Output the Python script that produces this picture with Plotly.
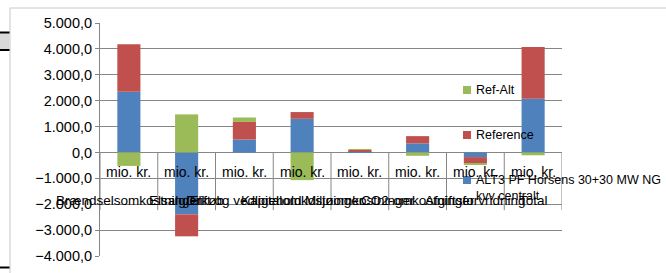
import plotly.graph_objects as go

# ---- data (mio. kr.) ----
categories = ["Brændselsomkostninger", "Elsalg/Elkøb", "Drift og vedligehold",
              "Kapitalomkostninger", "Miljøomkostninger", "CO2-omkostninger",
              "Afgiftsforvridning", "Total"]
unit_labels = ["mio. kr."] * len(categories)
alt3_values = [2340, -2390, 500, 1300, 40, 350, -180, 2070]
reference_values = [1840, -850, 680, 260, 60, 280, -240, 2000]
ref_alt_values = [-520, 1470, 170, -1070, 20, -130, -65, -110]

series_names = ["ALT3 PF Horsens 30+30 MW NG<br>kvv centralt", "Reference", "Ref-Alt"]
series_colors = ["#4F81BD", "#C0504D", "#9BBB59"]

W, H = 666, 273
L, R, T, B = 100, 104, 23, 17
PW, PH = W - L - R, H - T - B


def px(x):
    return (x - L) / PW


def py(y):
    return (H - B - y) / PH


fig = go.Figure()
for i, (name, vals, col) in enumerate(zip(series_names,
                                          [alt3_values, reference_values, ref_alt_values],
                                          series_colors)):
    fig.add_trace(go.Bar(
        x=categories, y=vals, name=name, marker=dict(color=col, line=dict(width=0)),
        width=0.4, showlegend=False,
    ))

grid = "#868686"
shapes = []
# category box lines under zero
for k in range(len(categories) + 1):
    shapes.append(dict(type="line", xref="x", yref="y", x0=k - 0.5, x1=k - 0.5,
                       y0=0, y1=-2230, line=dict(color=grid, width=1)))
# chart area frame
shapes.append(dict(type="line", xref="paper", yref="paper", x0=px(10), x1=px(666),
                   y0=py(8), y1=py(8), line=dict(color="#C8C8C8", width=1)))
shapes.append(dict(type="line", xref="paper", yref="paper", x0=px(10), x1=px(10),
                   y0=py(8), y1=py(273), line=dict(color="#C8C8C8", width=1)))
# spreadsheet artifacts on the left
shapes.append(dict(type="rect", xref="paper", yref="paper", x0=px(0), x1=px(9.5),
                   y0=py(50), y1=py(32.5), fillcolor="#D9D9D9", line=dict(width=0)))
for yy in (32.5, 50, 267.5):
    shapes.append(dict(type="line", xref="paper", yref="paper", x0=px(0), x1=px(9.5),
                       y0=py(yy), y1=py(yy), line=dict(color="black", width=2)))

annotations = []
for k, (cat, unit) in enumerate(zip(categories, unit_labels)):
    annotations.append(dict(x=k, y=-760, xref="x", yref="y", text=unit, showarrow=False,
                            font=dict(size=14, color="black"), xanchor="center", yanchor="middle"))
    annotations.append(dict(x=k, y=-1850, xref="x", yref="y", text=cat, showarrow=False,
                            font=dict(size=13.5, color="black"), xanchor="center", yanchor="middle"))

# legend (Excel-style: reversed order, symbol right next to text)
legend_rows = [(2, 90), (1, 135), (0, 180)]
for idx, ycen in legend_rows:
    shapes.append(dict(type="rect", xref="paper", yref="paper",
                       x0=px(463), x1=px(471), y0=py(ycen + 4), y1=py(ycen - 4),
                       fillcolor=series_colors[idx], line=dict(width=0)))
    annotations.append(dict(x=px(474), y=py(ycen - 9), xref="paper", yref="paper",
                            text=series_names[idx], showarrow=False, align="left",
                            xanchor="left", yanchor="top",
                            font=dict(size=12.5, color="black")))

fig.update_layout(
    width=W, height=H,
    margin=dict(l=L, r=R, t=T, b=B, autoexpand=False),
    paper_bgcolor="white", plot_bgcolor="white",
    barmode="relative",
    separators=",.",
    showlegend=False,
    font=dict(family="Liberation Sans, Arial, sans-serif", color="black"),
    xaxis=dict(type="category", showticklabels=False, showgrid=False, zeroline=False,
               range=[-0.5, len(categories) - 0.5], showline=False),
    yaxis=dict(range=[-4000, 5000], dtick=1000, tick0=0, tickformat=",.1f",
               showgrid=True, gridcolor=grid, gridwidth=1,
               zeroline=True, zerolinecolor=grid, zerolinewidth=1,
               showline=True, linecolor=grid, linewidth=1,
               ticks="outside", ticklen=4, tickcolor=grid,
               tickfont=dict(size=14.5, color="black")),
    shapes=shapes,
    annotations=annotations,
)

fig.write_html("out.html", config={"displayModeBar": False},
               post_script="document.body.style.margin='0';document.body.style.overflow='hidden';")
